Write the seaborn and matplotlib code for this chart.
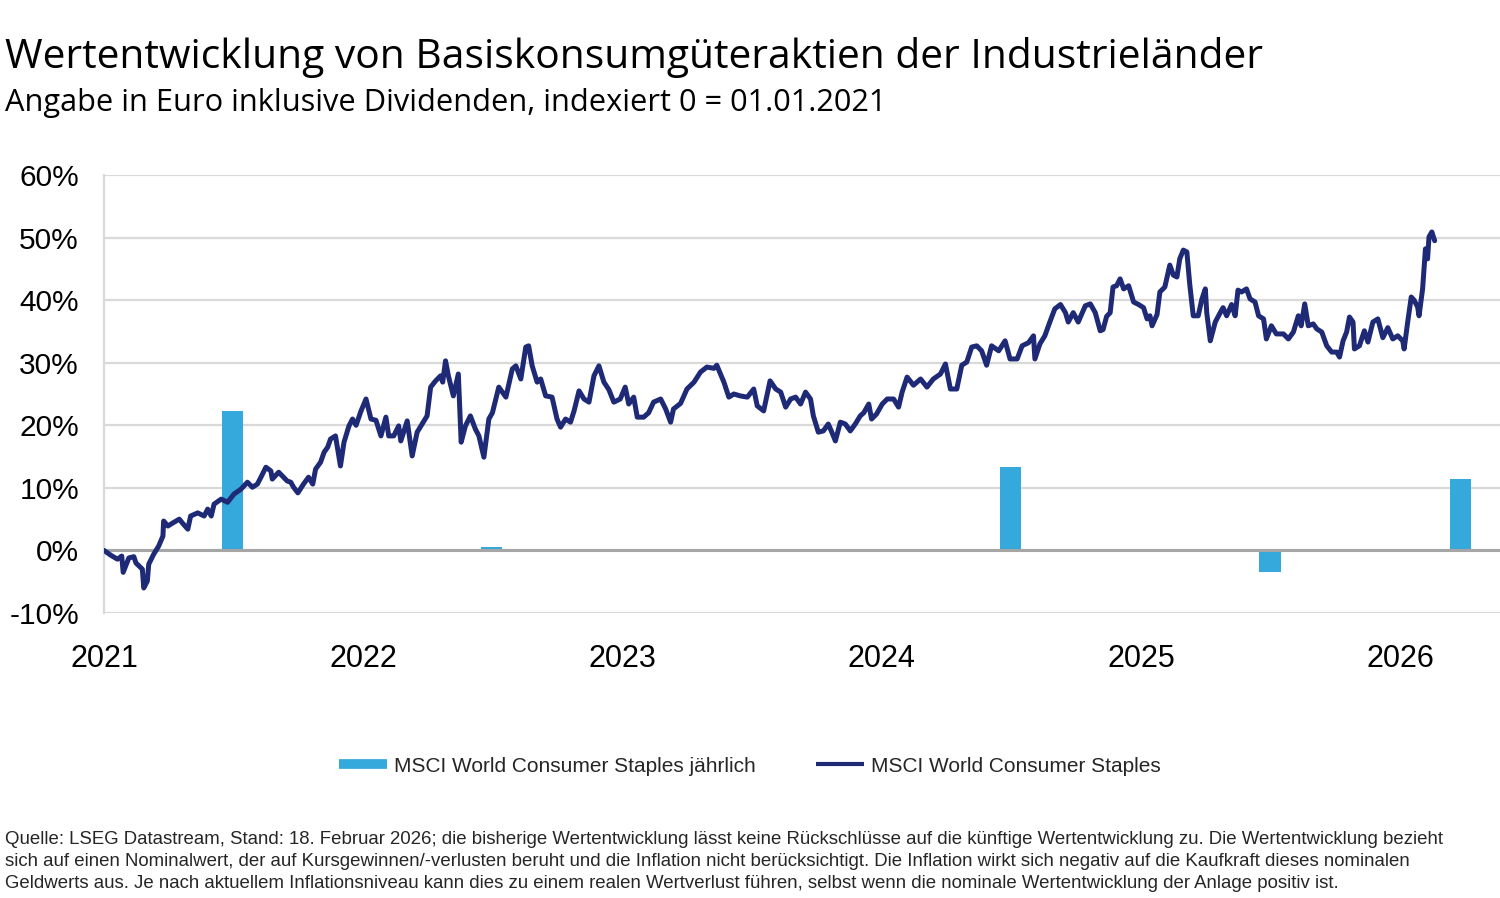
import numpy as np
import pandas as pd
import matplotlib
matplotlib.use("Agg")
import matplotlib.pyplot as plt
import seaborn as sns
from matplotlib.lines import Line2D

# ---------------- data ----------------
# days since 01.01.2021 of each observation, and the index value in %
obs_day = [
    0, 10, 19, 25, 27, 35, 42, 45, 54, 56,
    61, 63, 70, 77, 83, 84, 90, 97, 106, 111,
    118, 122, 132, 141, 146, 151, 155, 165, 174, 183,
    193, 202, 209, 216, 221, 228, 235, 237, 246, 258,
    263, 267, 273, 281, 288, 294, 298, 305, 310, 315,
    319, 326, 333, 338, 345, 350, 355, 362, 369, 376,
    383, 390, 397, 401, 408, 415, 418, 427, 434, 441,
    448, 455, 460, 467, 474, 477, 481, 485, 492, 499,
    503, 509, 516, 523, 528, 535, 542, 547, 556, 566,
    575, 580, 587, 594, 598, 603, 610, 615, 622, 631,
    638, 643, 650, 657, 662, 669, 676, 683, 690, 697,
    704, 711, 718, 727, 734, 739, 746, 751, 760, 767,
    774, 784, 791, 798, 802, 812, 821, 831, 840, 849,
    859, 863, 873, 880, 887, 896, 906, 915, 920, 929,
    938, 946, 953, 960, 967, 974, 981, 988, 995, 999,
    1006, 1013, 1020, 1025, 1030, 1037, 1044, 1051, 1058, 1065,
    1070, 1077, 1081, 1088, 1096, 1103, 1112, 1119, 1124, 1131,
    1140, 1150, 1159, 1168, 1178, 1185, 1192, 1201, 1208, 1215,
    1222, 1229, 1236, 1243, 1250, 1260, 1269, 1276, 1286, 1293,
    1302, 1309, 1311, 1318, 1325, 1332, 1339, 1347, 1354, 1358,
    1365, 1372, 1382, 1389, 1396, 1403, 1407, 1412, 1417, 1421,
    1426, 1431, 1436, 1443, 1450, 1457, 1464, 1469, 1473, 1476,
    1483, 1487, 1494, 1501, 1506, 1511, 1515, 1520, 1525, 1529,
    1534, 1541, 1546, 1551, 1553, 1558, 1565, 1572, 1576, 1581,
    1588, 1593, 1597, 1602, 1609, 1614, 1621, 1626, 1633, 1637,
    1644, 1651, 1661, 1668, 1675, 1682, 1686, 1691, 1696, 1703,
    1708, 1715, 1722, 1729, 1736, 1740, 1745, 1750, 1754, 1759,
    1761, 1768, 1775, 1780, 1787, 1794, 1801, 1808, 1815, 1822,
    1829, 1831, 1836, 1841, 1845, 1850, 1852, 1857, 1861, 1864,
    1866, 1870, 1874,
]
index_pct = [
    0.0, -0.8, -1.4, -0.9, -3.5, -1.2, -1.0, -2.0, -3.0, -6.0,
    -4.9, -2.2, -0.6, 0.7, 2.3, 4.7, 3.9, 4.4, 5.0, 4.3,
    3.4, 5.5, 6.0, 5.5, 6.6, 5.5, 7.4, 8.2, 7.7, 9.0,
    9.8, 10.9, 10.1, 10.6, 11.7, 13.3, 12.7, 11.4, 12.5, 11.1,
    10.9, 10.1, 9.2, 10.6, 11.7, 10.6, 13.0, 14.1, 15.7, 16.5,
    17.8, 18.3, 13.5, 17.3, 19.9, 21.0, 20.0, 22.3, 24.2, 21.0,
    20.8, 18.3, 21.3, 18.3, 18.3, 19.9, 17.5, 20.7, 15.1, 18.9,
    20.2, 21.5, 26.1, 27.1, 27.9, 26.9, 30.3, 27.9, 24.7, 28.2,
    17.3, 19.9, 21.5, 19.4, 18.3, 14.9, 21.0, 22.0, 26.1, 24.5,
    29.0, 29.5, 27.4, 32.5, 32.7, 29.5, 26.9, 27.4, 24.7, 24.5,
    21.0, 19.7, 21.0, 20.5, 22.3, 25.5, 24.2, 23.7, 27.9, 29.5,
    26.9, 25.7, 23.7, 24.2, 26.1, 23.4, 24.5, 21.3, 21.3, 22.0,
    23.7, 24.2, 22.6, 20.5, 22.6, 23.5, 25.8, 26.9, 28.5, 29.3,
    29.1, 29.6, 26.9, 24.5, 25.0, 24.7, 24.5, 25.8, 23.1, 22.3,
    27.1, 25.8, 25.3, 22.9, 24.2, 24.5, 23.4, 25.3, 24.2, 21.5,
    18.9, 19.1, 20.2, 18.9, 17.5, 20.5, 20.2, 19.1, 20.2, 21.5,
    22.0, 23.4, 21.0, 21.8, 23.4, 24.2, 24.2, 22.9, 25.3, 27.7,
    26.4, 27.4, 26.1, 27.4, 28.2, 29.8, 25.8, 25.8, 29.6, 30.1,
    32.5, 32.7, 31.9, 29.6, 32.7, 31.9, 33.5, 30.6, 30.6, 32.7,
    33.2, 34.3, 30.6, 33.0, 34.3, 36.5, 38.6, 39.3, 38.0, 36.5,
    38.0, 36.5, 39.1, 39.4, 38.0, 35.1, 35.3, 37.4, 38.0, 42.1,
    42.3, 43.4, 41.8, 42.3, 39.7, 39.3, 38.8, 37.0, 37.5, 35.9,
    37.7, 41.3, 42.1, 45.6, 44.0, 43.7, 46.6, 48.0, 47.7, 42.6,
    37.5, 37.5, 40.1, 41.8, 38.0, 33.5, 36.5, 38.0, 38.8, 37.5,
    39.3, 37.5, 41.6, 41.3, 41.8, 40.2, 39.7, 37.5, 37.0, 33.8,
    35.9, 34.6, 34.6, 33.8, 34.9, 37.5, 35.9, 39.4, 35.9, 36.2,
    35.4, 34.9, 32.7, 31.7, 31.7, 30.9, 33.5, 34.9, 37.3, 36.5,
    32.2, 32.7, 35.1, 33.3, 36.5, 37.0, 34.0, 35.6, 33.8, 34.3,
    33.5, 32.2, 36.5, 40.5, 40.0, 38.9, 37.5, 41.8, 48.2, 46.6,
    50.1, 50.9, 49.5,
]

bar_years = ["2021", "2022", "2023", "2024", "2025", "2026"]
bar_dates = ["2021-07-01", "2022-07-01", "2023-07-01", "2024-07-01", "2025-07-01", "2026-03-26"]
bar_pct = [22.3, 0.6, -0.3, 13.4, -3.5, 11.4]

year_ticks = ["2021", "2022", "2023", "2024", "2025", "2026"]
pct_ticks = [-10, 0, 10, 20, 30, 40, 50, 60]

title = "Wertentwicklung von Basiskonsumgüteraktien der Industrieländer"
subtitle = "Angabe in Euro inklusive Dividenden, indexiert 0 = 01.01.2021"
series_bar = "MSCI World Consumer Staples jährlich"
series_line = "MSCI World Consumer Staples"
footer = [
    "Quelle: LSEG Datastream, Stand: 18. Februar 2026; die bisherige Wertentwicklung lässt keine Rückschlüsse auf die künftige Wertentwicklung zu. Die Wertentwicklung bezieht",
    "sich auf einen Nominalwert, der auf Kursgewinnen/-verlusten beruht und die Inflation nicht berücksichtigt. Die Inflation wirkt sich negativ auf die Kaufkraft dieses nominalen",
    "Geldwerts aus. Je nach aktuellem Inflationsniveau kann dies zu einem realen Wertverlust führen, selbst wenn die nominale Wertentwicklung der Anlage positiv ist.",
]

# ---------------- style ----------------
sns.set_theme(style="white")
plt.rcParams["font.family"] = ["Liberation Sans", "DejaVu Sans"]

LINE_C = "#1f2a77"
BAR_C = "#35a8dc"
GRID_C = "#d9d9d9"
ZERO_C = "#a6a6a6"

W, H = 1500, 898
fig = plt.figure(figsize=(W / 100, H / 100), dpi=100)
fig.patch.set_facecolor("white")
ax = fig.add_axes([104 / W, 1 - 613 / H, (1500 - 104) / W, (613 - 175) / H])

df = pd.DataFrame({
    "date": pd.Timestamp("2021-01-01") + pd.to_timedelta(obs_day, unit="D"),
    "pct": index_pct,
})
bars = pd.DataFrame({"date": pd.to_datetime(bar_dates), "pct": bar_pct, "year": bar_years})

ax.bar(bars["date"], bars["pct"], width=30, color=BAR_C, zorder=2, linewidth=0)
ax.axhline(0, color=ZERO_C, lw=2.2, zorder=3)
sns.lineplot(data=df, x="date", y="pct", ax=ax, color=LINE_C, lw=3.6, zorder=4,
             legend=False)

ax.set_ylim(-10, 60)
ax.set_xlim(pd.Timestamp("2021-01-01"), pd.Timestamp("2026-05-21"))
ax.set_yticks(pct_ticks)
ax.set_yticklabels([f"{v}%" for v in pct_ticks])
ax.set_xticks(pd.to_datetime([f"{y}-01-01" for y in year_ticks]))
ax.set_xticklabels(year_ticks)
ax.yaxis.grid(True, color=GRID_C, lw=1.6, zorder=0)
ax.xaxis.grid(False)
ax.set_axisbelow(True)
for s in ["top", "right", "bottom"]:
    ax.spines[s].set_visible(False)
ax.spines["left"].set_color(GRID_C)
ax.spines["left"].set_linewidth(1.6)
ax.tick_params(axis="y", length=0, pad=18, labelsize=21.5, colors="black")
ax.tick_params(axis="x", length=0, pad=22, labelsize=22, colors="black")
ax.set_xlabel("")
ax.set_ylabel("")

# ---------------- texts ----------------
t_title = fig.text(5 / W, 1 - 58 / H, title, fontsize=29, va="center", ha="left",
                   family=["Open Sans", "DejaVu Sans"], color="black")
t_sub = fig.text(5 / W, 1 - 103 / H, subtitle, fontsize=20, va="center", ha="left",
                 family=["Open Sans", "DejaVu Sans"], color="black")
t_foot = [fig.text(5 / W, 1 - y / H, line, fontsize=12, va="center", ha="left")
          for line, y in zip(footer, [840, 862, 884])]

handles = [Line2D([0], [0], color=BAR_C, lw=7, solid_capstyle="butt"),
           Line2D([0], [0], color=LINE_C, lw=3, solid_capstyle="butt")]
leg = fig.legend(handles, [series_bar, series_line], loc="center",
                 bbox_to_anchor=(750 / W, 1 - 766 / H), ncol=2, frameon=False,
                 fontsize=15, handlelength=2.3, handletextpad=0.35, columnspacing=2.9)

# fit text widths to the reference layout
fig.canvas.draw()
r = fig.canvas.get_renderer()
def fit(t, target):
    w = t.get_window_extent(r).width
    t.set_fontsize(t.get_fontsize() * target / w)
fit(t_title, 1257)
fit(t_sub, 880)
fit(t_foot[0], 1447)
for t in t_foot[1:]:
    t.set_fontsize(t_foot[0].get_fontsize())

fig.savefig("out.png", dpi=100, facecolor="white")
